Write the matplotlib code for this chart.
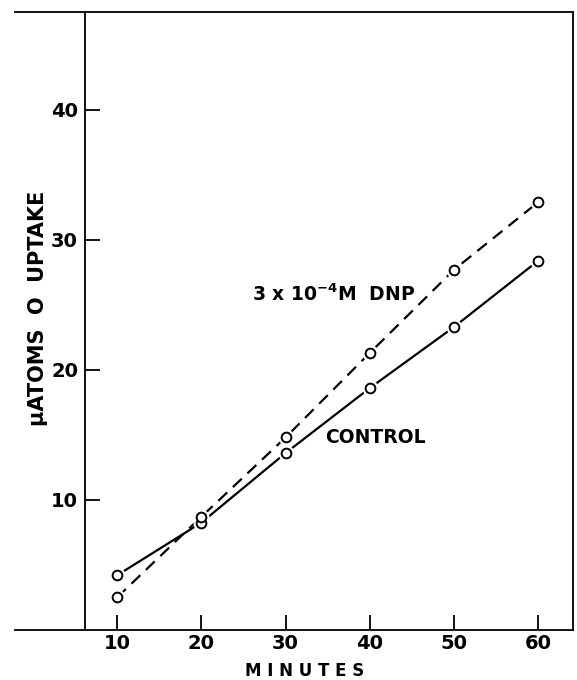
import matplotlib
matplotlib.use('Agg')
import matplotlib.pyplot as plt

plt.rcParams['font.family'] = ['DejaVu Sans']
plt.rcParams['mathtext.default'] = 'regular'

minutes = [10, 20, 30, 40, 50, 60]
control = [4.2, 8.25, 13.6, 18.6, 23.3, 28.4]
dnp = [2.5, 8.7, 14.8, 21.3, 27.7, 32.9]
xticks = [10, 20, 30, 40, 50, 60]
yticks = [10, 20, 30, 40]

fig = plt.figure(figsize=(5.77, 6.8), dpi=100)
ax = fig.add_axes([85 / 577, 50 / 680, 488 / 577, 618 / 680])

# lines first, then white discs to leave a gap round each circle
ax.plot(minutes, control, color='black', lw=1.6, zorder=2)
ax.plot(minutes, dnp, color='black', lw=1.6, dashes=(5.5, 3.5), zorder=2)
for ys in (control, dnp):
    ax.plot(minutes, ys, 'o', ms=10.5, mfc='white', mec='white', zorder=3)
    ax.plot(minutes, ys, 'o', ms=7, mfc='white', mec='black', mew=1.4, zorder=4)

ax.set_xlim(6.2, 64.1)
ax.set_ylim(0, 47.5)
ax.set_xticks(xticks)
ax.set_yticks(yticks)
ax.tick_params(direction='in', length=11, width=1.3, labelsize=14, pad=5)
ax.tick_params(axis='x', pad=3)
for lab in ax.get_xticklabels() + ax.get_yticklabels():
    lab.set_fontweight('bold')
for s in ax.spines.values():
    s.set_linewidth(1.3)

# top and bottom rules run past the left axis
tr = ax.get_yaxis_transform()
ax.plot([-0.143, 0], [0, 0], transform=tr, color='black', lw=1.3, clip_on=False)
ax.plot([-0.143, 0], [47.5, 47.5], transform=tr, color='black', lw=1.3, clip_on=False)

ax.set_xlabel('M I N U T E S', fontsize=12, fontweight='bold')
ax.xaxis.set_label_coords(0.451, -0.052)
ax.set_ylabel('μATOMS  O  UPTAKE', fontsize=15, fontweight='bold')
ax.yaxis.set_label_coords(-0.075, 0.521)

ax.text(26.0, 25.8, '3 x 10$^{-4}$M  DNP', fontsize=13.5, fontweight='bold', va='center')
ax.text(34.7, 14.8, 'CONTROL', fontsize=13.5, fontweight='bold', va='center')

fig.savefig('out.png', dpi=100)
